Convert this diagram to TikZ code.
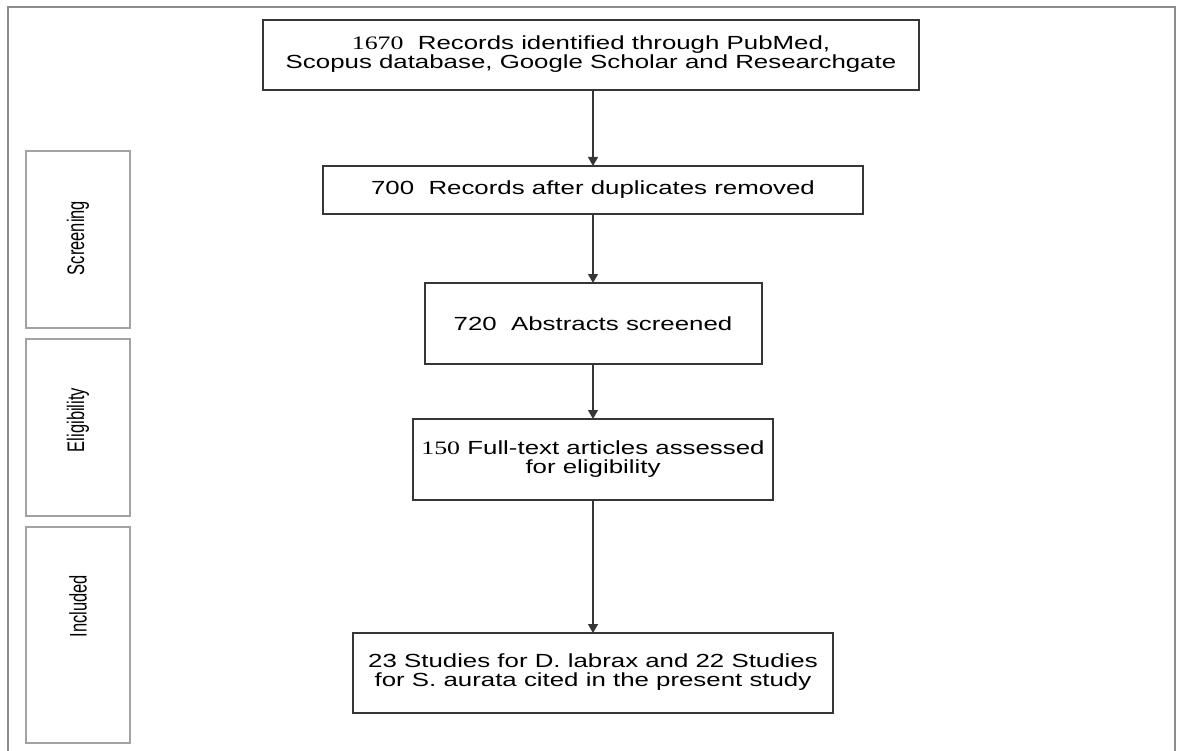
\documentclass[tikz,border=0pt]{standalone}
\usepackage{fontspec}
\setmainfont{Liberation Sans}
\newfontfamily\numfont{Liberation Serif}
\usetikzlibrary{arrows.meta, positioning}

\definecolor{boxgray}{HTML}{363636}
\definecolor{sidegray}{HTML}{A2A2A2}
\definecolor{framegray}{HTML}{8C8C8C}

% stretched text, the figure is wider than it is tall
\newcommand{\wide}[1]{\scalebox{1.36}[1]{#1}}
\newcommand{\tall}[1]{\scalebox{1}[1.45]{#1}}
\newcommand{\twolines}[2]{\wide{\begin{tabular}{@{}c@{}}#1\\#2\end{tabular}}}

\begin{document}
\begin{tikzpicture}[
  x=1pt, y=-1pt,
  every node/.style={align=center, font=\fontsize{19}{17.5}\selectfont, outer sep=0pt},
  flowbox/.style={draw=boxgray, line width=2pt, inner sep=0pt},
  phasebox/.style={draw=sidegray, line width=2.4pt, minimum width=104pt},
  phaselabel/.style={rotate=90, font=\fontsize{16.5}{16.5}\selectfont},
  flow/.style={draw=boxgray, line width=1.3pt, -{Triangle[length=9pt,width=10pt]}}
]
\useasboundingbox (0,0) rectangle (1177,751);

% outer frame, open at the bottom
\draw[framegray, line width=1.3pt] (8,751) -- (8,7) -- (1175,7) -- (1175,751);

% Main column
\node (rec) [flowbox, minimum width=656pt, minimum height=70pt] at (591,55)
  {\twolines{{\numfont 1670}\ \ Records identified through PubMed,}{Scopus database, Google Scholar and Researchgate}};
\node (dup) [flowbox, minimum width=540pt, minimum height=48pt, below=76pt of rec, xshift=2pt] {\wide{700\ \ Records after duplicates removed}};
\node (abs) [flowbox, minimum width=337pt, minimum height=81pt, below=69pt of dup] {\wide{720\ \ Abstracts screened}};
\node (full) [flowbox, minimum width=360pt, minimum height=81pt, below=55pt of abs] {\twolines{{\numfont 150} Full-text articles assessed}{for eligibility}};
\node (incl) [flowbox, minimum width=480pt, minimum height=80pt, below=133pt of full] {\twolines{23 Studies for D. labrax and 22 Studies}{for S. aurata cited in the present study}};

\draw[flow] (rec.south -| dup.north) -- (dup.north);
\draw[flow] (dup) -- (abs);
\draw[flow] (abs) -- (full);
\draw[flow] (full) -- (incl);

% Phase boxes on the left
\node (screenbox) [phasebox, minimum height=177pt] at (78,239.5) {};
\node (eligbox) [phasebox, minimum height=177pt] at (78,427.5) {};
\node (inclbox) [phasebox, minimum height=216pt] at (78,635) {};
\node (screenlbl) [phaselabel] at (78,238) {\tall{Screening}};
\node (eliglbl) [phaselabel] at (78,420) {\tall{Eligibility}};
\node (incllbl) [phaselabel] at (78,606) {\tall{Included}};
\end{tikzpicture}
\end{document}
